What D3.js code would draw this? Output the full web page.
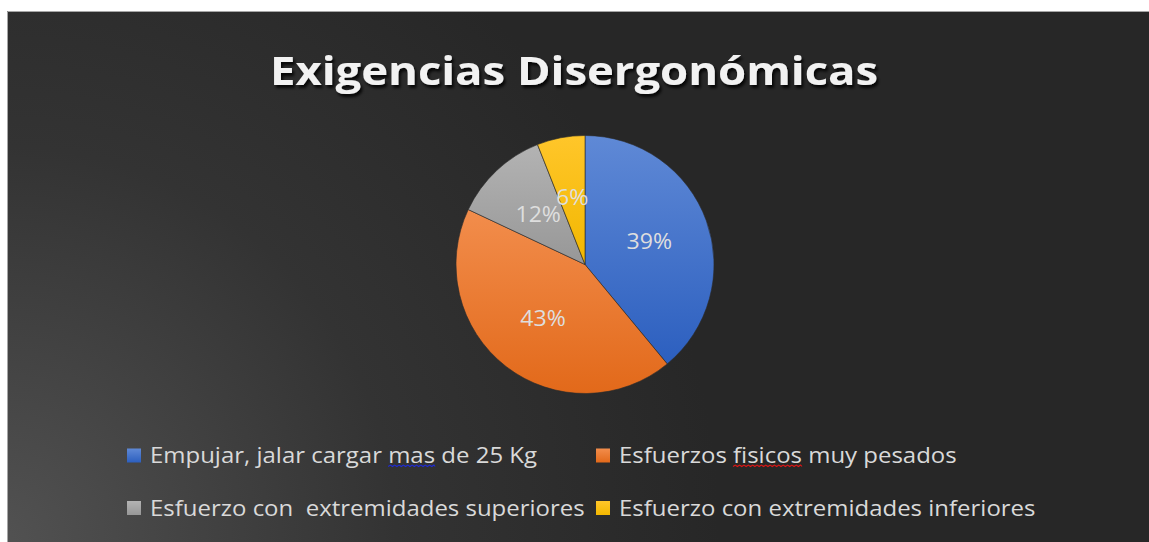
<!DOCTYPE html>
<html>
<head>
<meta charset="utf-8">
<script src="https://cdn.jsdelivr.net/npm/d3@7"></script>
<style>
  html, body { margin: 0; padding: 0; background: #fff; }
  svg { display: block; }
</style>
</head>
<body>
<svg id="chart"></svg>
<script>
const WIDTH = 1149;
const HEIGHT = 542;

// data
const categories = [
  "Empujar, jalar cargar mas de 25 Kg",
  "Esfuerzos fisicos muy pesados",
  "Esfuerzo con  extremidades superiores",
  "Esfuerzo con extremidades inferiores",
];
const values = [39, 43, 12, 6];
const colorsTop = ["#5f89d6", "#f28d4c", "#b3b3b3", "#ffc62a"];
const colorsBottom = ["#2c5fbf", "#e2691a", "#979797", "#f2b700"];
const chartTitle = "Exigencias Disergonómicas";

const svg = d3.select("#chart").attr("width", WIDTH).attr("height", HEIGHT);
const defs = svg.append("defs");

/* background: Excel dark style, lighter in bottom-left corner */
const bg = defs.append("radialGradient")
  .attr("id", "bg")
  .attr("gradientUnits", "userSpaceOnUse")
  .attr("cx", 0).attr("cy", HEIGHT).attr("r", 720);
bg.append("stop").attr("offset", "0%").attr("stop-color", "#525252");
bg.append("stop").attr("offset", "55%").attr("stop-color", "#333333");
bg.append("stop").attr("offset", "100%").attr("stop-color", "#272727");

const shadow = defs.append("filter").attr("id", "shadow")
  .attr("x", "-5%").attr("y", "-20%").attr("width", "110%").attr("height", "150%");
shadow.append("feDropShadow")
  .attr("dx", 2).attr("dy", 3).attr("stdDeviation", 1.6)
  .attr("flood-color", "#000").attr("flood-opacity", 0.85);

values.forEach((v, i) => {
  const g = defs.append("linearGradient").attr("id", "slice" + i)
    .attr("x1", 0).attr("y1", 0).attr("x2", 0).attr("y2", 1);
  g.append("stop").attr("offset", "0%").attr("stop-color", colorsTop[i]);
  g.append("stop").attr("offset", "100%").attr("stop-color", colorsBottom[i]);
});

svg.append("rect")
  .attr("x", 7).attr("y", 11)
  .attr("width", WIDTH - 7).attr("height", HEIGHT - 11)
  .attr("fill", "url(#bg)");
svg.append("path")
  .attr("d", `M7.5,${HEIGHT}V11.5H${WIDTH}`)
  .attr("fill", "none").attr("stroke", "#a6a6a6").attr("stroke-width", 1);

/* title */
svg.append("text")
  .attr("x", 574).attr("y", 85)
  .attr("text-anchor", "middle")
  .attr("font-family", "'Open Sans', sans-serif")
  .attr("font-weight", "bold")
  .attr("font-size", 40)
  .attr("textLength", 608)
  .attr("lengthAdjust", "spacingAndGlyphs")
  .attr("fill", "#f2f2f2")
  .attr("filter", "url(#shadow)")
  .text(chartTitle);

/* pie */
const cx = 585, cy = 264.5, radius = 129;
const pie = d3.pie().sort(null).value((d) => d);
const arc = d3.arc().innerRadius(0).outerRadius(radius);
// labels sit a bit further out than the plain centroid, like Excel's
const labelArc = d3.arc().innerRadius(radius * 0.08).outerRadius(radius * 0.98);
const arcs = pie(values);

const pg = svg.append("g").attr("transform", `translate(${cx},${cy})`);
pg.selectAll("path.slice")
  .data(arcs)
  .enter()
  .append("path")
  .attr("class", "slice")
  .attr("d", arc)
  .attr("fill", (d, i) => `url(#slice${i})`)
  .attr("stroke", "#2a2a2a")
  .attr("stroke-width", 0.6);

const total = d3.sum(values);
pg.selectAll("text.lbl")
  .data(arcs)
  .enter()
  .append("text")
  .attr("class", "lbl")
  .attr("transform", (d) => `translate(${labelArc.centroid(d)}) scale(1.1,1)`)
  .attr("text-anchor", "middle")
  .attr("dy", "0.36em")
  .attr("font-family", "'Open Sans', sans-serif")
  .attr("font-size", 21)
  .attr("fill", "#dedede")
  .text((d) => Math.round((d.value / total) * 100) + "%");

/* legend: 2 columns x 2 rows */
const colX = d3.scaleOrdinal().domain([0, 1]).range([127, 596]);
const rowY = d3.scaleOrdinal().domain([0, 1]).range([455.5, 508]);
const lg = svg.append("g").attr("font-family", "'Open Sans', sans-serif");
const items = lg.selectAll("g.item")
  .data(categories)
  .enter()
  .append("g")
  .attr("class", "item")
  .attr("transform", (d, i) => `translate(${colX(i % 2)},${rowY(Math.floor(i / 2))})`);

items.append("rect")
  .attr("x", 0).attr("y", -7)
  .attr("width", 14).attr("height", 14)
  .attr("fill", (d, i) => `url(#slice${i})`);

// Calibri-like look: Open Sans stretched a little sideways
const textG = items.append("g").attr("transform", "translate(23,0) scale(1.09,1)");
const legendText = textG.append("text")
  .attr("x", 0).attr("y", 0)
  .attr("dy", "0.36em")
  .attr("font-size", 22)
  .attr("fill", "#d9d9d9")
  .attr("xml:space", "preserve")
  .style("white-space", "pre")
  .text((d) => d);

/* spell-check squiggles under two words, as in the screenshot */
const squiggles = [
  { item: 0, word: "mas", color: "#1f2bd6" },
  { item: 1, word: "fisicos", color: "#e01515" },
];
squiggles.forEach((s) => {
  const node = legendText.nodes()[s.item];
  const idx = categories[s.item].indexOf(s.word);
  const start = node.getStartPositionOfChar(idx).x;
  const end = node.getEndPositionOfChar(idx + s.word.length - 1).x;
  const y = 11;
  let d = `M${start},${y}`;
  for (let x = start, up = true; x < end; x += 2, up = !up) {
    d += `L${Math.min(x + 2, end)},${up ? y - 1.5 : y}`;
  }
  d3.select(node.parentNode).append("path")
    .attr("d", d).attr("fill", "none")
    .attr("stroke", s.color).attr("stroke-width", 1);
});
</script>
</body>
</html>
